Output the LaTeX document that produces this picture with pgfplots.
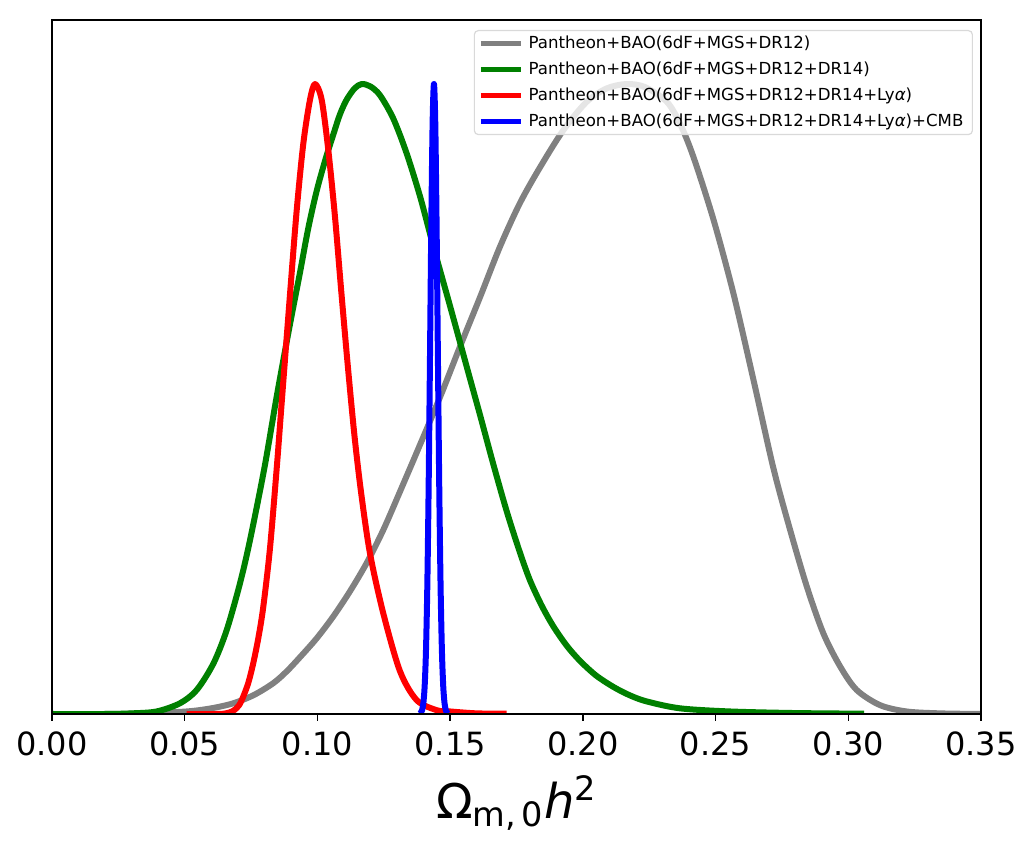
\documentclass[border=0pt]{standalone}
\usepackage{fontspec}
\setmainfont{DejaVu Sans}
\usepackage{pgfplots}
\pgfplotsset{compat=1.18}
\definecolor{mgray}{RGB}{128,128,128}
\definecolor{mgreen}{RGB}{0,128,0}
\definecolor{mred}{RGB}{255,0,0}
\definecolor{mblue}{RGB}{0,0,255}
\begin{document}
\begin{tikzpicture}
\useasboundingbox (-26pt,-66pt) rectangle (491.5pt,357pt);
\begin{axis}[
  scale only axis, width=464.5pt, height=347pt,
  xmin=0, xmax=0.35, ymin=0, ymax=1.1016,
  ytick=\empty,
  xtick={0,0.05,0.1,0.15,0.2,0.25,0.3,0.35},
  xticklabels={0.00,0.05,0.10,0.15,0.20,0.25,0.30,0.35},
  xtick pos=left, tick align=outside,
  major tick length=3.5pt,
  tick style={black, line width=0.75pt},
  axis line style={line width=0.75pt},
  axis on top,
  /pgf/number format/assume math mode=true,
  ticklabel style={font=\fontsize{16}{16}\selectfont},
  xticklabel style={yshift=-2pt},
  xlabel={Ω\textsubscript{m,\,0}\textit{h}\textsuperscript{2}},
  xlabel style={font=\fontsize{24}{24}\selectfont, yshift=-3pt},
  legend cell align=left,
  legend style={at={(1,1)}, anchor=north east, xshift=-4pt, yshift=-5pt,
    draw=black!15, line width=0.6pt, rounded corners=2pt,
    fill=white, fill opacity=0.8, text opacity=1, draw opacity=1,
    font=\fontsize{8.3}{10}\selectfont, inner xsep=2pt, inner ysep=2pt,
    row sep=4pt,
    nodes={inner ysep=0pt, text height=7pt, text depth=2pt, inner xsep=2.5pt}},
  legend image code/.code={\draw[#1, line width=2.6pt] (0pt,0pt) -- (20pt,0pt);},
  every axis plot/.append style={line width=3pt, line join=round, smooth, tension=0.5},
]
\addplot[mgray] coordinates {
(0.000,0.000) (0.020,0.000) (0.035,0.001) (0.0507,0.004) (0.060,0.009)
(0.0683,0.017) (0.076,0.030) (0.0834,0.049) (0.0885,0.068) (0.0934,0.090)
(0.0997,0.120) (0.106,0.155) (0.1123,0.195) (0.1186,0.240) (0.1248,0.292)
(0.131,0.352) (0.1374,0.415) (0.1462,0.503) (0.1537,0.583) (0.1613,0.662)
(0.1688,0.742) (0.1763,0.811) (0.1839,0.868) (0.1927,0.927) (0.2015,0.972)
(0.209,0.993) (0.2165,1.000) (0.2235,0.995) (0.2316,0.972) (0.2365,0.938)
(0.2416,0.885) (0.2492,0.785) (0.2567,0.668) (0.2643,0.530) (0.2718,0.390)
(0.2781,0.292) (0.2844,0.202) (0.2906,0.128) (0.297,0.075) (0.3032,0.038)
(0.312,0.014) (0.322,0.004) (0.3346,0.001) (0.350,0.000)
};
\addlegendentry{Pantheon+BAO(6dF+MGS+DR12)}
\addplot[mgreen] coordinates {
(0.000,0.000) (0.020,0.000) (0.030,0.001) (0.0394,0.004) (0.0482,0.017)
(0.0545,0.038) (0.0608,0.080) (0.0658,0.133) (0.0708,0.207) (0.0746,0.276)
(0.080,0.390) (0.0847,0.505) (0.0895,0.615) (0.0934,0.700) (0.0965,0.770)
(0.0997,0.830) (0.103,0.880) (0.106,0.920) (0.1085,0.952) (0.111,0.975)
(0.114,0.993) (0.1167,1.000) (0.120,0.996) (0.1236,0.982) (0.1286,0.945)
(0.1336,0.890) (0.1387,0.821) (0.1437,0.742) (0.150,0.647) (0.1575,0.532)
(0.1613,0.474) (0.1663,0.396) (0.1713,0.322) (0.176,0.260) (0.180,0.213)
(0.1845,0.172) (0.1889,0.139) (0.194,0.108) (0.199,0.084) (0.205,0.061)
(0.2115,0.043) (0.2175,0.030) (0.224,0.020) (0.2366,0.009) (0.2555,0.004)
(0.280,0.0015) (0.306,0.0005)
};
\addlegendentry{Pantheon+BAO(6dF+MGS+DR12+DR14)}
\addplot[mred] coordinates {
(0.0507,0.000) (0.062,0.000) (0.0655,0.001) (0.0683,0.005) (0.0705,0.014)
(0.0721,0.028) (0.074,0.050) (0.0759,0.082) (0.0778,0.122) (0.0796,0.170)
(0.0821,0.262) (0.0847,0.392) (0.0865,0.492) (0.0897,0.668) (0.0922,0.800)
(0.0947,0.906) (0.0972,0.975) (0.0991,1.000) (0.1016,0.975) (0.1041,0.895)
(0.1066,0.790) (0.109,0.670) (0.1115,0.550) (0.114,0.440) (0.1165,0.350)
(0.1198,0.255) (0.1248,0.160) (0.1311,0.068) (0.1374,0.022) (0.145,0.006)
(0.150,0.004) (0.160,0.001) (0.1713,0.0005)
};
\addlegendentry{Pantheon+BAO(6dF+MGS+DR12+DR14+Ly\textit{α})}
\addplot[mblue] coordinates {
(0.1384,0.0004) (0.1389,0.0017) (0.1394,0.0057) (0.1399,0.0169) (0.1404,0.044)
(0.1409,0.1007) (0.1414,0.203) (0.1419,0.360) (0.1424,0.563) (0.1429,0.775)
(0.1434,0.938) (0.1439,1.000) (0.1444,0.938) (0.1449,0.775) (0.1454,0.563)
(0.1459,0.360) (0.1464,0.203) (0.1469,0.1007) (0.1474,0.044) (0.1479,0.0169)
(0.1484,0.0057) (0.1489,0.0017) (0.1494,0.0004)
};
\addlegendentry{Pantheon+BAO(6dF+MGS+DR12+DR14+Ly\textit{α})+CMB}
\end{axis}
\end{tikzpicture}
\end{document}
